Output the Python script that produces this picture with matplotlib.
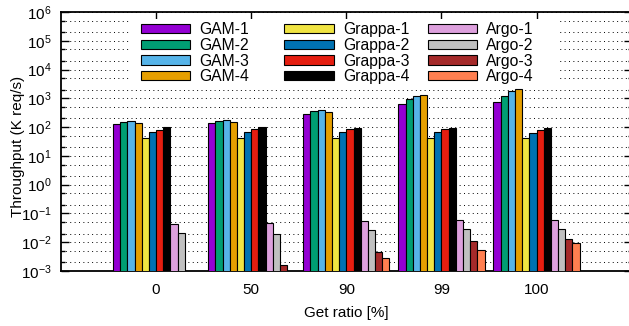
import matplotlib.pyplot as plt
from matplotlib.patches import Patch, Rectangle
from matplotlib.ticker import LogLocator, NullFormatter
import numpy as np

plt.rcParams['font.family'] = ['Liberation Sans', 'DejaVu Sans']
plt.rcParams['mathtext.fontset'] = 'custom'
plt.rcParams['mathtext.rm'] = 'Liberation Sans'
plt.rcParams['mathtext.it'] = 'Liberation Sans:italic'

ratios = ['0', '50', '90', '99', '100']
nan = np.nan

# throughput in K req/s, one list per system/config
gam1 = [128, 139, 286, 635, 765]
gam2 = [155, 166, 354, 955, 1200]
gam3 = [162, 180, 383, 1200, 1740]
gam4 = [135, 155, 326, 1306, 2090]
grappa1 = [43, 43, 43, 43, 41]
grappa2 = [66, 66, 66, 66, 63]
grappa3 = [79, 85, 83, 83, 78]
grappa4 = [98, 100, 96, 96, 94]
argo1 = [0.042, 0.048, 0.055, 0.058, 0.058]
argo2 = [0.020, 0.019, 0.027, 0.028, 0.029]
argo3 = [nan, 0.0015, 0.0045, 0.011, 0.013]
argo4 = [nan, nan, 0.0027, 0.0054, 0.0096]

names = ['GAM-1', 'GAM-2', 'GAM-3', 'GAM-4',
         'Grappa-1', 'Grappa-2', 'Grappa-3', 'Grappa-4',
         'Argo-1', 'Argo-2', 'Argo-3', 'Argo-4']
series = [gam1, gam2, gam3, gam4, grappa1, grappa2, grappa3, grappa4,
          argo1, argo2, argo3, argo4]
colors = ['#9400D3', '#009E73', '#56B4E9', '#E69F00',
          '#F0E442', '#0072B2', '#E51E10', '#000000',
          '#DDA0DD', '#C0C0C0', '#A52A2A', '#FF7F50']

W, H = 629, 326
fig = plt.figure(figsize=(W / 100, H / 100), dpi=100)
ax = fig.add_axes([61 / W, 1 - 271 / H, 570.7 / W, 259 / H])

x = np.arange(len(ratios))
width = 0.0755
for j, (vals, col) in enumerate(zip(series, colors)):
    ax.bar(x + (j - 5.5) * width, vals, width, bottom=1e-4, color=col,
           edgecolor='black', linewidth=0.8, zorder=3)

ax.set_yscale('log')
ax.set_ylim(1e-3, 1e6)
ax.set_xlim(-1, 5)
ax.set_xticks(x)
ax.set_xticklabels(ratios)
ax.yaxis.set_major_locator(LogLocator(base=10, numticks=20))
ax.yaxis.set_minor_locator(LogLocator(base=10, subs=(2, 5), numticks=20))
ax.yaxis.set_minor_formatter(NullFormatter())

ax.tick_params(axis='both', which='both', direction='in', top=True, right=True,
               labelsize=11, color='black')
ax.tick_params(axis='y', which='major', length=6, width=1, pad=7)
ax.tick_params(axis='y', which='minor', length=3, width=1)
ax.tick_params(axis='x', which='major', length=5, width=1, pad=9)

ax.set_axisbelow(True)
ax.yaxis.grid(True, which='both', color='black', linestyle=(0, (1, 3.5)), linewidth=0.7)
for s in ax.spines.values():
    s.set_linewidth(1.3)

ax.set_xlabel('Get ratio [%]', fontsize=11, labelpad=6)
ax.set_ylabel('Throughput (K req/s)', fontsize=11)
ax.yaxis.set_label_coords(-0.063, 0.48)

# opaque key area
ax.add_patch(Rectangle((130 / W, 1 - 85 / H), 428 / W, 66 / H, transform=fig.transFigure,
                       facecolor='white', edgecolor='none', zorder=2, clip_on=False))

for k, xk in enumerate([141, 284.3, 427.7]):
    hs = [Patch(facecolor=c, edgecolor='black', linewidth=0.8) for c in colors[4 * k:4 * k + 4]]
    fig.legend(hs, names[4 * k:4 * k + 4], loc='upper left',
               bbox_to_anchor=(xk / W, 1 - 22 / H), frameon=False,
               borderpad=0, borderaxespad=0, handlelength=3.14, handleheight=0.52,
               handletextpad=0.6, labelspacing=0.05, fontsize=11.3)

fig.savefig('out.png', dpi=100)
